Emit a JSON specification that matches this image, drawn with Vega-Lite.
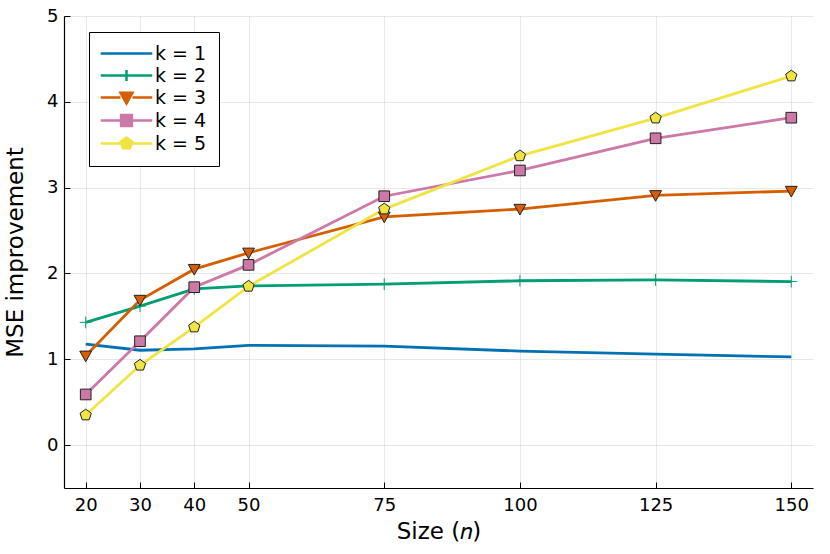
{
  "$schema": "https://vega.github.io/schema/vega-lite/v6.json",
  "width": 749,
  "height": 472,
  "autosize": {"type": "none"},
  "padding": {"left": 64, "top": 16, "right": 17, "bottom": 66},
  "background": "white",
  "data": {
    "values": [
      {"n": 20, "k": "k = 1", "mse": 1.177},
      {"n": 30, "k": "k = 1", "mse": 1.105},
      {"n": 40, "k": "k = 1", "mse": 1.12},
      {"n": 50, "k": "k = 1", "mse": 1.163},
      {"n": 75, "k": "k = 1", "mse": 1.154},
      {"n": 100, "k": "k = 1", "mse": 1.095},
      {"n": 125, "k": "k = 1", "mse": 1.06},
      {"n": 150, "k": "k = 1", "mse": 1.028},
      {"n": 20, "k": "k = 2", "mse": 1.43},
      {"n": 30, "k": "k = 2", "mse": 1.62},
      {"n": 40, "k": "k = 2", "mse": 1.82},
      {"n": 50, "k": "k = 2", "mse": 1.855},
      {"n": 75, "k": "k = 2", "mse": 1.876},
      {"n": 100, "k": "k = 2", "mse": 1.915},
      {"n": 125, "k": "k = 2", "mse": 1.925},
      {"n": 150, "k": "k = 2", "mse": 1.905},
      {"n": 20, "k": "k = 3", "mse": 1.04},
      {"n": 30, "k": "k = 3", "mse": 1.69},
      {"n": 40, "k": "k = 3", "mse": 2.05},
      {"n": 50, "k": "k = 3", "mse": 2.24},
      {"n": 75, "k": "k = 3", "mse": 2.66},
      {"n": 100, "k": "k = 3", "mse": 2.75},
      {"n": 125, "k": "k = 3", "mse": 2.91},
      {"n": 150, "k": "k = 3", "mse": 2.96},
      {"n": 20, "k": "k = 4", "mse": 0.59},
      {"n": 30, "k": "k = 4", "mse": 1.21},
      {"n": 40, "k": "k = 4", "mse": 1.84},
      {"n": 50, "k": "k = 4", "mse": 2.1},
      {"n": 75, "k": "k = 4", "mse": 2.9},
      {"n": 100, "k": "k = 4", "mse": 3.2},
      {"n": 125, "k": "k = 4", "mse": 3.575},
      {"n": 150, "k": "k = 4", "mse": 3.815},
      {"n": 20, "k": "k = 5", "mse": 0.35},
      {"n": 30, "k": "k = 5", "mse": 0.93},
      {"n": 40, "k": "k = 5", "mse": 1.375},
      {"n": 50, "k": "k = 5", "mse": 1.85},
      {"n": 75, "k": "k = 5", "mse": 2.75},
      {"n": 100, "k": "k = 5", "mse": 3.37},
      {"n": 125, "k": "k = 5", "mse": 3.81},
      {"n": 150, "k": "k = 5", "mse": 4.3}
    ]
  },
  "encoding": {
    "x": {
      "field": "n",
      "type": "quantitative",
      "title": "Size (𝑛)",
      "scale": {"domain": [16, 154], "nice": false, "zero": false},
      "axis": {"values": [20, 30, 40, 50, 75, 100, 125, 150]}
    },
    "y": {
      "field": "mse",
      "type": "quantitative",
      "title": "MSE improvement",
      "scale": {"domain": [-0.5, 5], "nice": false, "zero": false},
      "axis": {"values": [0, 1, 2, 3, 4, 5]}
    }
  },
  "layer": [
    {
      "mark": {"type": "line", "strokeWidth": 2.8},
      "encoding": {
        "color": {
          "field": "k",
          "type": "nominal",
          "scale": {
            "domain": ["k = 1", "k = 2", "k = 3", "k = 4", "k = 5"],
            "range": ["#0072B2", "#009E73", "#D55E00", "#CC79A7", "#F0E442"]
          },
          "legend": null
        }
      }
    },
    {
      "transform": [{"filter": "datum.k != 'k = 1'"}],
      "mark": {"type": "point", "filled": true, "opacity": 1, "size": 140, "strokeWidth": 1},
      "encoding": {
        "color": {"field": "k", "type": "nominal", "legend": null},
        "shape": {
          "field": "k",
          "type": "nominal",
          "scale": {
            "domain": ["k = 2", "k = 3", "k = 4", "k = 5"],
            "range": [
              "M-1,0H1M0,-1V1",
              "M-1,-0.8L1,-0.8L0,1Z",
              "M-0.9,-0.9H0.9V0.9H-0.9Z",
              "M0,-1L0.951,-0.309L0.588,0.809L-0.588,0.809L-0.951,-0.309Z"
            ]
          },
          "legend": null
        },
        "stroke": {
          "condition": {"test": "datum.k == 'k = 2'", "value": "#009E73"},
          "value": "#222222"
        }
      }
    },
    {
      "transform": [{"filter": "false"}],
      "mark": {"type": "point", "filled": true, "opacity": 1},
      "encoding": {
        "shape": {
          "field": "k",
          "type": "nominal",
          "scale": {
            "domain": ["k = 1", "k = 2", "k = 3", "k = 4", "k = 5"],
            "range": [
              "M-4.3,0H4.3",
              "M-4.3,0H4.3M0,-0.9V0.9",
              "M-4.3,0H-1M1,0H4.3M-1,-0.8L1,-0.8L0,1Z",
              "M-4.3,0H-0.9M0.9,0H4.3M-0.9,-0.9H0.9V0.9H-0.9Z",
              "M-4.3,0H-0.95M0.95,0H4.3M0,-1L0.951,-0.309L0.588,0.809L-0.588,0.809L-0.951,-0.309Z"
            ]
          },
          "legend": {"title": null}
        },
        "fill": {
          "field": "k",
          "type": "nominal",
          "scale": {
            "domain": ["k = 1", "k = 2", "k = 3", "k = 4", "k = 5"],
            "range": ["#0072B2", "#009E73", "#D55E00", "#CC79A7", "#F0E442"]
          },
          "legend": {"title": null}
        },
        "stroke": {
          "field": "k",
          "type": "nominal",
          "scale": {
            "domain": ["k = 1", "k = 2", "k = 3", "k = 4", "k = 5"],
            "range": ["#0072B2", "#009E73", "#D55E00", "#CC79A7", "#F0E442"]
          },
          "legend": {"title": null}
        }
      }
    }
  ],
  "resolve": {"scale": {"shape": "independent", "fill": "independent", "stroke": "independent"}},
  "config": {
    "font": "DejaVu Sans",
    "view": {"stroke": null},
    "axis": {
      "domainColor": "black",
      "domainWidth": 1.2,
      "tickColor": "black",
      "tickSize": -6,
      "tickWidth": 1,
      "labelColor": "black",
      "labelFontSize": 18,
      "labelFont": "DejaVu Sans",
      "titleFont": "DejaVu Sans",
      "titleFontSize": 23,
      "titleFontWeight": "normal",
      "titleColor": "black",
      "gridColor": "#000000",
      "gridOpacity": 0.09,
      "gridWidth": 1
    },
    "axisX": {"labelPadding": 14, "titlePadding": 6},
    "axisY": {"labelPadding": 12, "titlePadding": 19},
    "legend": {
      "orient": "none",
      "legendX": 25,
      "legendY": 16,
      "strokeColor": "black",
      "strokeWidth": 1,
      "fillColor": "white",
      "padding": 12,
      "cornerRadius": 0,
      "labelFontSize": 19,
      "labelColor": "black",
      "labelFont": "DejaVu Sans",
      "symbolSize": 144,
      "symbolStrokeWidth": 2.5,
      "symbolOffset": 16,
      "labelOffset": 19,
      "rowPadding": 1
    }
  }
}
